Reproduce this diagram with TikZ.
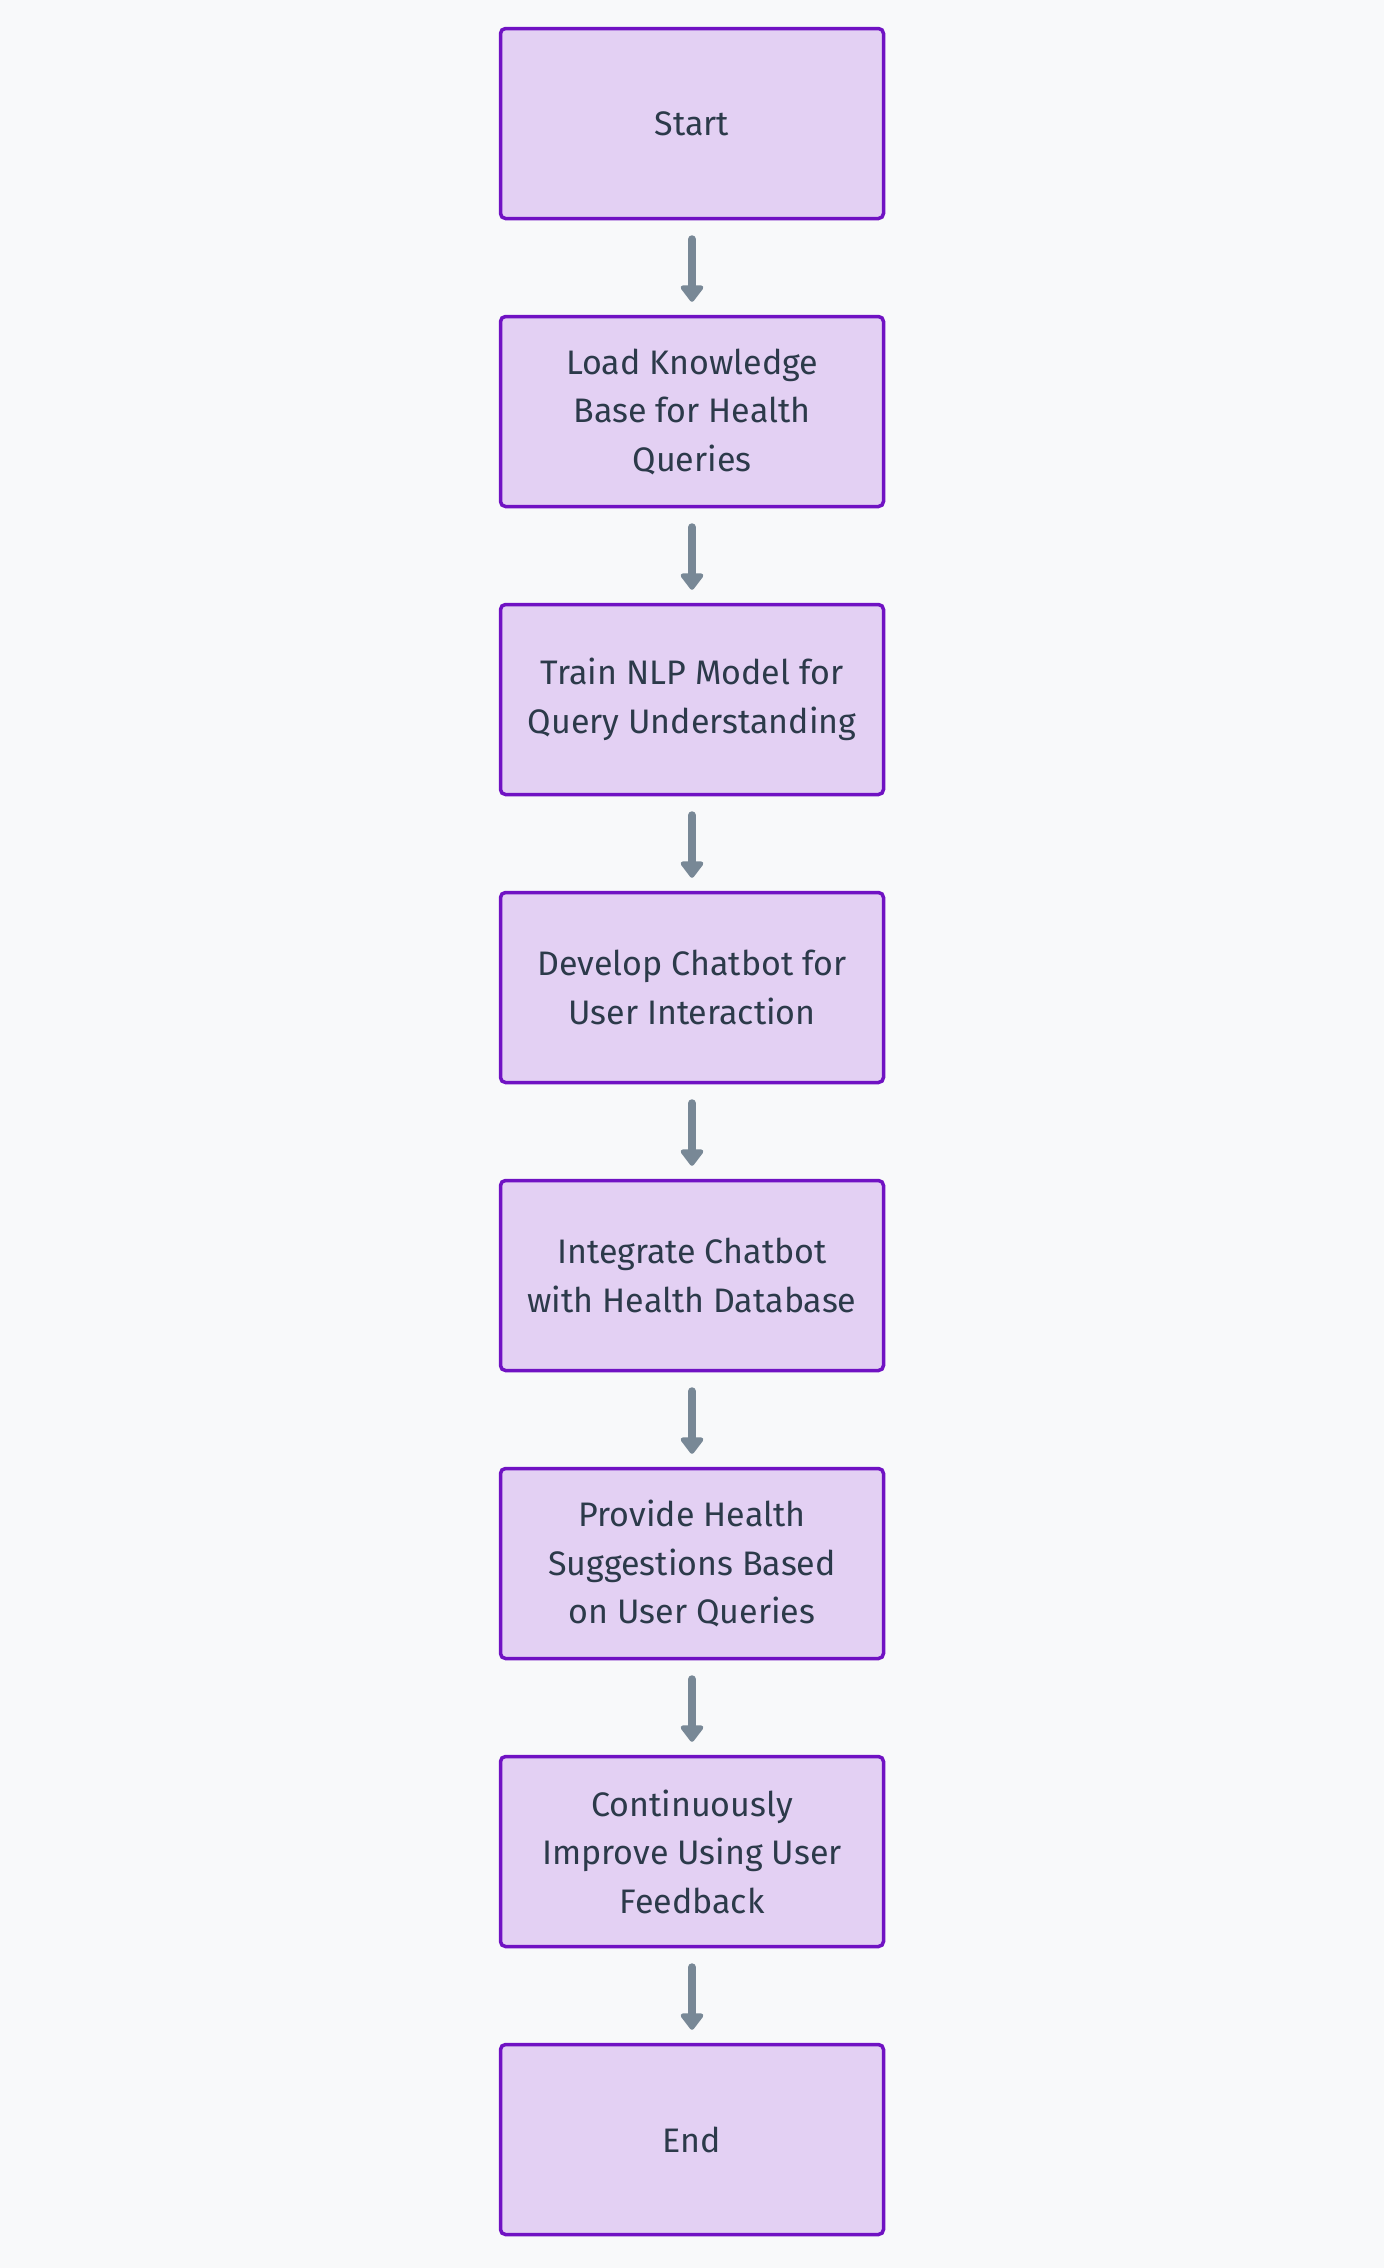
\documentclass[tikz,border=0pt]{standalone}
\usepackage{fontspec}
\setmainfont{Fira Sans}
\usetikzlibrary{arrows.meta}
\definecolor{bgc}{HTML}{F8F9FA}
\definecolor{boxfill}{HTML}{E3D0F3}
\definecolor{boxline}{HTML}{7012C3}
\definecolor{txt}{HTML}{2C3A4A}
\definecolor{arr}{HTML}{788896}
\tikzset{
  stepbox/.style={draw=boxline, fill=boxfill, line width=3.5pt, rounded corners=5pt,
    minimum width=383pt, minimum height=190pt, inner sep=0pt, align=center,
    text=txt, font=\fontsize{34}{48.5}\selectfont},
  flowarrow/.style={draw=arr, line width=8pt, line cap=round,
    -{Triangle[width=26pt,length=18pt,round]}}
}
\begin{document}
\begin{tikzpicture}[x=1pt,y=-1pt]
\useasboundingbox (0,0) rectangle (1384,2268);
\fill[bgc] (0,0) rectangle (1384,2268);
\node[stepbox] (n1) at (692,123.5) {Start};
\node[stepbox] (n2) at (692,411.5) {Load Knowledge\\Base for Health\\Queries};
\node[stepbox] (n3) at (692,699.5) {Train NLP Model for\\Query Understanding};
\node[stepbox] (n4) at (692,987.5) {Develop Chatbot for\\User Interaction};
\node[stepbox] (n5) at (692,1275.5) {Integrate Chatbot\\with Health Database};
\node[stepbox] (n6) at (692,1563.5) {Provide Health\\Suggestions Based\\on User Queries};
\node[stepbox] (n7) at (692,1851.5) {Continuously\\Improve Using User\\Feedback};
\node[stepbox] (n8) at (692,2139.5) {End};
\foreach \a/\b in {n1/n2,n2/n3,n3/n4,n4/n5,n5/n6,n6/n7,n7/n8}{
  \draw[flowarrow] ([yshift=-19pt]\a.south) -- ([yshift=13pt]\b.north);
}
\end{tikzpicture}
\end{document}
